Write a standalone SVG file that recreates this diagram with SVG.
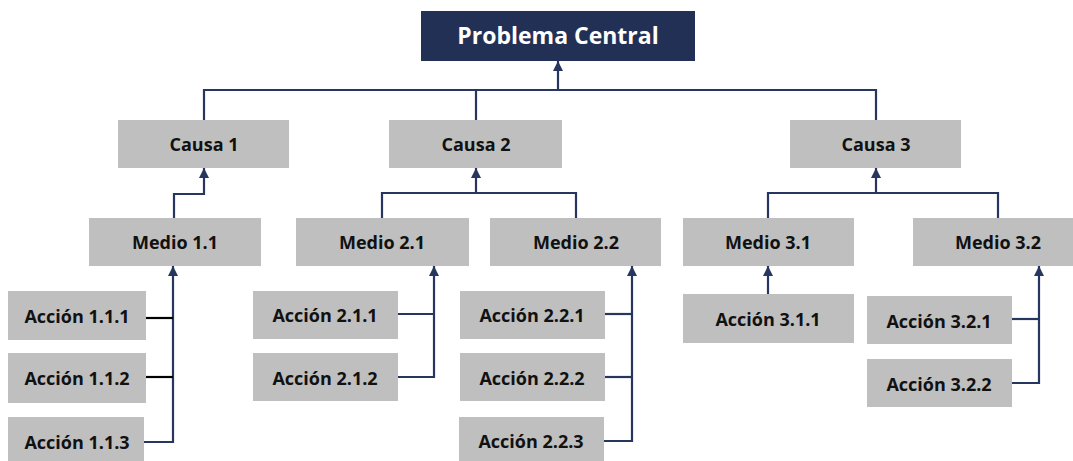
<svg xmlns="http://www.w3.org/2000/svg" width="1073" height="461" viewBox="0 0 1073 461">
<style>
.box{fill:#BFBFBF}
.top{fill:#223056}
.t{font-family:"Open Sans","Liberation Sans",sans-serif;font-weight:bold;font-size:18px;fill:#111;text-anchor:middle}
.tt{font-family:"Open Sans","Liberation Sans",sans-serif;font-weight:bold;font-size:23px;fill:#fff;text-anchor:middle}
.c{fill:none;stroke:#26365F;stroke-width:2.2}
.k{fill:none;stroke:#000;stroke-width:2.2}
</style>
<defs>
<marker id="ar" viewBox="0 0 10 10" refX="10" refY="5" markerWidth="11" markerHeight="10" markerUnits="userSpaceOnUse" orient="auto">
<path d="M0,0 L10,5 L0,10 z" fill="#26365F"/>
</marker>
</defs>
<rect width="1073" height="461" fill="#fff"/>
<g id="connectors">
<path class="c" d="M204,120 V90 H876 V120"/>
<path class="c" d="M476,120 V90"/>
<path class="c" d="M558,90 V61" marker-end="url(#ar)"/>
<path class="c" d="M174,218 V194 H204 V168" marker-end="url(#ar)"/>
<path class="c" d="M382,218 V193 H576 V218"/>
<path class="c" d="M476,193 V168" marker-end="url(#ar)"/>
<path class="c" d="M768,218 V193 H998 V218"/>
<path class="c" d="M876,193 V168" marker-end="url(#ar)"/>
<path class="c" d="M144,442 H173 V266" marker-end="url(#ar)"/>
<path class="k" d="M146,318 H173"/>
<path class="k" d="M146,377 H173"/>
<path class="c" d="M398,314 H434"/>
<path class="c" d="M398,377 H434 V266" marker-end="url(#ar)"/>
<path class="c" d="M605,314 H632"/>
<path class="c" d="M605,377 H632"/>
<path class="c" d="M604,441 H632 V266" marker-end="url(#ar)"/>
<path class="c" d="M768,294 V266" marker-end="url(#ar)"/>
<path class="c" d="M1012,319 H1039"/>
<path class="c" d="M1012,383 H1039 V266" marker-end="url(#ar)"/>
</g>
<g id="problema"><rect class="top" x="421" y="11" width="274" height="50"/><text class="tt" x="558" y="44">Problema Central</text></g>
<g id="causa1"><rect class="box" x="118" y="120" width="171" height="48"/><text class="t" x="204" y="151">Causa 1</text></g>
<g id="causa2"><rect class="box" x="389" y="120" width="173" height="48"/><text class="t" x="476" y="151">Causa 2</text></g>
<g id="causa3"><rect class="box" x="790" y="120" width="171" height="48"/><text class="t" x="876" y="151">Causa 3</text></g>
<g id="medio11"><rect class="box" x="89" y="218" width="172" height="48"/><text class="t" x="175" y="249">Medio 1.1</text></g>
<g id="medio21"><rect class="box" x="296" y="218" width="173" height="48"/><text class="t" x="382" y="249">Medio 2.1</text></g>
<g id="medio22"><rect class="box" x="490" y="218" width="171" height="48"/><text class="t" x="576" y="249">Medio 2.2</text></g>
<g id="medio31"><rect class="box" x="683" y="218" width="171" height="48"/><text class="t" x="768" y="249">Medio 3.1</text></g>
<g id="medio32"><rect class="box" x="913" y="218" width="160" height="48"/><text class="t" x="998" y="249">Medio 3.2</text></g>
<g id="accion111"><rect class="box" x="8" y="291" width="138" height="49"/><text class="t" x="77" y="323">Acción 1.1.1</text></g>
<g id="accion112"><rect class="box" x="8" y="353" width="138" height="50"/><text class="t" x="77" y="385">Acción 1.1.2</text></g>
<g id="accion113"><rect class="box" x="8" y="417" width="136" height="44"/><text class="t" x="77" y="449">Acción 1.1.3</text></g>
<g id="accion211"><rect class="box" x="253" y="291" width="145" height="48"/><text class="t" x="325" y="322">Acción 2.1.1</text></g>
<g id="accion212"><rect class="box" x="253" y="353" width="145" height="48"/><text class="t" x="325" y="385">Acción 2.1.2</text></g>
<g id="accion221"><rect class="box" x="460" y="291" width="145" height="48"/><text class="t" x="532" y="322">Acción 2.2.1</text></g>
<g id="accion222"><rect class="box" x="460" y="353" width="145" height="48"/><text class="t" x="532" y="385">Acción 2.2.2</text></g>
<g id="accion223"><rect class="box" x="459" y="417" width="145" height="44"/><text class="t" x="531" y="448">Acción 2.2.3</text></g>
<g id="accion311"><rect class="box" x="683" y="294" width="171" height="49"/><text class="t" x="768" y="326">Acción 3.1.1</text></g>
<g id="accion321"><rect class="box" x="867" y="296" width="145" height="48"/><text class="t" x="939" y="328">Acción 3.2.1</text></g>
<g id="accion322"><rect class="box" x="867" y="359" width="145" height="48"/><text class="t" x="939" y="391">Acción 3.2.2</text></g>
</svg>
